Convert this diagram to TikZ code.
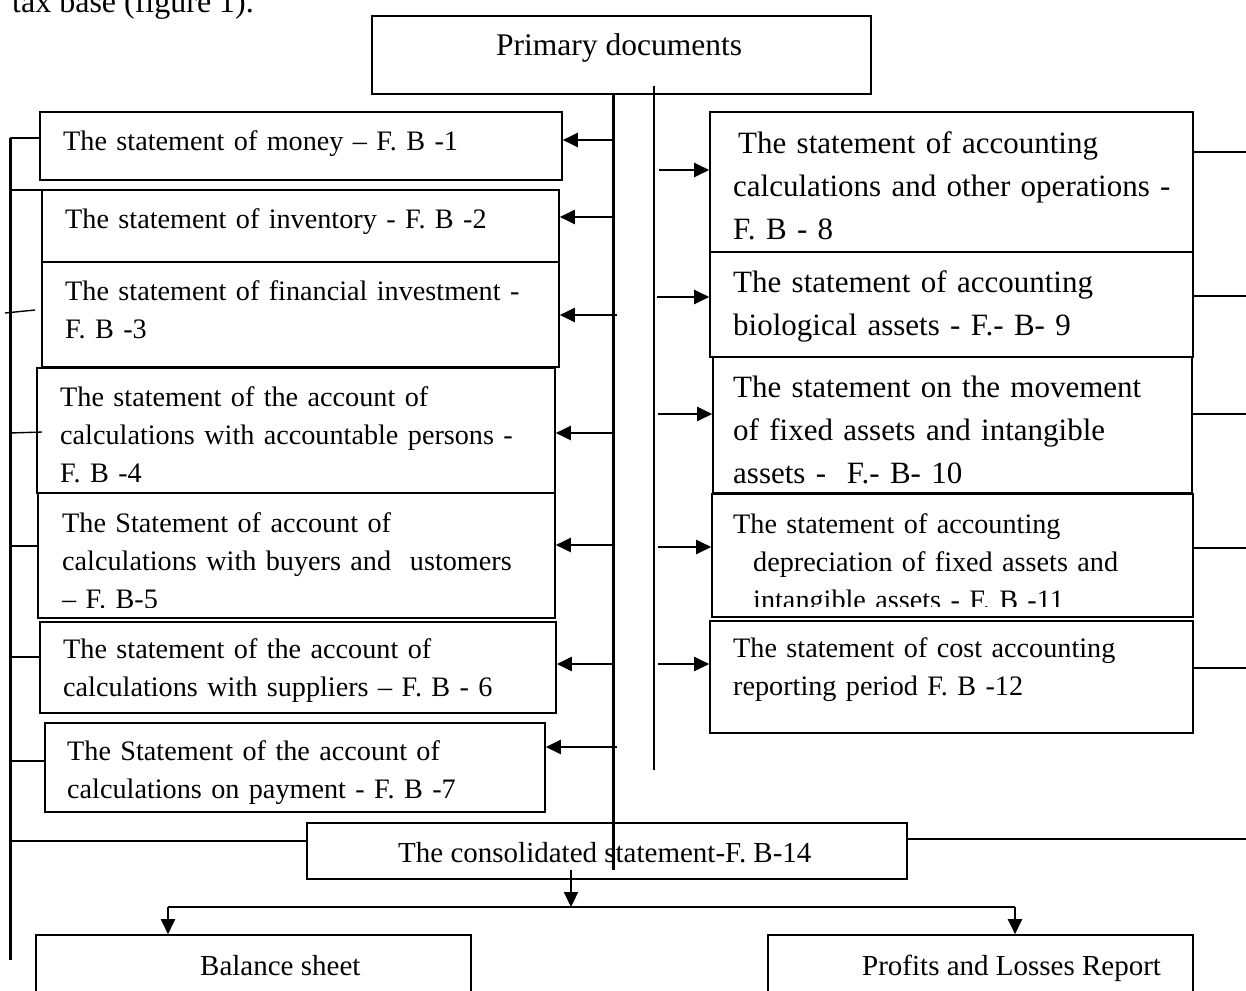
\documentclass[tikz,border=0pt]{standalone}
\usepackage{fontspec}
\setmainfont{Liberation Serif}
\usetikzlibrary{arrows.meta,fit}
\begin{document}
\begin{tikzpicture}[x=1pt,y=-1pt,
  box/.style={draw, line width=1.6pt, inner sep=0pt},
  lt/.style={anchor=base west, inner sep=0pt, align=left, text width=520pt, font=\fontsize{28.2}{38}\selectfont},
  rt/.style={anchor=base west, inner sep=0pt, align=left, text width=480pt, font=\fontsize{31}{43}\selectfont},
  ct/.style={anchor=base west, inner sep=0pt},
  link/.style={line width=2.6pt},
  thinlink/.style={line width=1.4pt},
  arr/.style={line width=2.2pt, -{Triangle[length=15pt,width=14pt]}}]
\useasboundingbox (0,0) rectangle (1246,990);

% caption fragment at top (partly off the page)
\node[ct, font=\fontsize{32}{38}\selectfont] (cap) at (12,13) {tax base (figure 1).};

% top box
\node[box, fit={(372,16) (871,94)}] (prim) {};
\node[ct, font=\fontsize{31.5}{38}\selectfont] (primt) at (496,56) {Primary documents};

% left boxes
\node[box, fit={(40,112) (562,180)}] (b1) {};
\node[box, fit={(42,190) (559,262)}] (b2) {};
\node[box, fit={(42,262) (559,367)}] (b3) {};
\node[box, fit={(37,368) (555,493)}] (b4) {};
\node[box, fit={(38,493) (555,618)}] (b5) {};
\node[box, fit={(40,622) (556,713)}] (b6) {};
\node[box, fit={(45,723) (545,812)}] (b7) {};

\node[lt] (t1) at (63,150) {The statement of money – F. B -1};
\node[lt] (t2) at (65,228) {The statement of inventory - F. B -2};
\node[lt] (t3) at (65,300) {The statement of financial investment -\\F. B -3};
\node[lt] (t4) at (60,406) {The statement of the account of\\calculations with accountable persons -\\F. B -4};
\begin{scope}
  \clip (38,493) rectangle (555,607);
  \node[lt] (t5) at (62,532) {The Statement of account of\\calculations with buyers and\ \ ustomers\\– F. B-5};
\end{scope}
\node[lt] (t6) at (63,658) {The statement of the account of\\calculations with suppliers – F. B - 6};
\begin{scope}
  \clip (45,723) rectangle (545,803);
  \node[lt] (t7) at (67,760) {The Statement of the account of\\calculations on payment - F. B -7};
\end{scope}

% right boxes
\node[box, fit={(710,112) (1193,252)}] (b8) {};
\node[box, fit={(710,252) (1193,357)}] (b9) {};
\node[box, fit={(713,357) (1192,493)}] (b10) {};
\node[box, fit={(712,494) (1193,617)}] (b11) {};
\node[box, fit={(710,621) (1193,733)}] (b12) {};

\node[rt] (t8) at (733,153) {\hspace*{5pt}The statement of accounting\\calculations and other operations -\\F. B - 8};
\node[rt] (t9) at (733,292) {The statement of accounting\\biological assets - F.- B- 9};
\node[rt] (t10) at (733,397) {The statement on the movement\\of fixed assets and intangible\\assets -\ \ F.- B- 10};
\begin{scope}
  \clip (712,494) rectangle (1193,606);
  \node[lt] (t11) at (733,533) {The statement of accounting\\\hspace*{20pt}depreciation of fixed assets and\\\hspace*{20pt}intangible assets - F. B -11};
\end{scope}
\node[lt] (t12) at (733,657) {The statement of cost accounting\\reporting period F. B -12};

% consolidated and results
\node[box, fit={(307,823) (907,879)}] (cons) {};
\node[ct, font=\fontsize{29}{38}\selectfont] (const) at (398,862) {The consolidated statement-F. B-14};
\node[box, fit={(36,935) (471,1010)}] (bal) {};
\node[ct, font=\fontsize{29}{38}\selectfont] (balt) at (200,975) {Balance sheet};
\node[box, fit={(768,935) (1193,1010)}] (pl) {};
\node[ct, font=\fontsize{29}{38}\selectfont] (plt) at (862,975) {Profits and Losses Report};

% trunks
\coordinate (trTop) at (613,94);
\coordinate (trBot) at (613,870);
\draw[line width=3pt] (trTop) -- (trBot);
\coordinate (tnTop) at (654,86);
\coordinate (tnBot) at (654,770);
\draw[line width=1.8pt] (tnTop) -- (tnBot);

% left arrows
\coordinate (L1) at (613,140);
\coordinate (L2) at (613,217);
\coordinate (L3) at (617,315);
\coordinate (L4) at (613,433);
\coordinate (L5) at (613,545);
\coordinate (L6) at (613,664);
\coordinate (L7) at (617,747);
\draw[arr] (L1) -- (L1 -| b1.east);
\draw[arr] (L2) -- (L2 -| b2.east);
\draw[arr] (L3) -- (L3 -| b3.east);
\draw[arr] (L4) -- (L4 -| b4.east);
\draw[arr] (L5) -- (L5 -| b5.east);
\draw[arr] (L6) -- (L6 -| b6.east);
\draw[arr] (L7) -- (L7 -| b7.east);

% right arrows
\coordinate (R8) at (659,170);
\coordinate (R9) at (657,297);
\coordinate (R10) at (658,414);
\coordinate (R11) at (658,547);
\coordinate (R12) at (658,664);
\draw[arr] (R8) -- (R8 -| b8.west);
\draw[arr] (R9) -- (R9 -| b9.west);
\draw[arr] (R10) -- (R10 -| b10.west);
\draw[arr] (R11) -- (R11 -| b11.west);
\draw[arr] (R12) -- (R12 -| b12.west);

% left rail
\coordinate (railTop) at (10,138);
\coordinate (railBot) at (10,960);
\draw[line width=3pt] (railTop) -- (railBot);
\draw[link] (railTop) -- (railTop -| b1.west);
\coordinate (k2) at (10,190);
\draw[link] (k2) -- (k2 -| b2.west);
\coordinate (k3a) at (5,313);
\coordinate (k3b) at (35,310);
\draw[thinlink] (k3a) -- (k3b);
\coordinate (k4) at (10,433);
\draw[thinlink] (k4) -- (42,432);
\coordinate (k5) at (10,546);
\draw[link] (k5) -- (k5 -| b5.west);
\coordinate (k6) at (10,657);
\draw[link] (k6) -- (k6 -| b6.west);
\coordinate (k7) at (10,761);
\draw[link] (k7) -- (k7 -| b7.west);
\coordinate (kc) at (10,841);
\draw[link] (kc) -- (kc -| cons.west);

% right ticks
\coordinate (e8) at (1246,152);
\coordinate (e9) at (1246,296);
\coordinate (e10) at (1246,414);
\coordinate (e11) at (1246,548);
\coordinate (e12) at (1246,668);
\coordinate (ec) at (1246,839);
\draw[link] (e8 -| b8.east) -- (e8);
\draw[link] (e9 -| b9.east) -- (e9);
\draw[link] (e10 -| b10.east) -- (e10);
\draw[link] (e11 -| b11.east) -- (e11);
\draw[link] (e12 -| b12.east) -- (e12);
\draw[link] (ec -| cons.east) -- (ec);

% distribution to results
\coordinate (cOut) at (571,870);
\coordinate (bus) at (571,907);
\coordinate (busL) at (168,907);
\coordinate (busR) at (1015,907);
\draw[arr] (cOut) -- (bus);
\draw[link] (busL) -- (busR);
\draw[arr] (busL) -- (busL |- bal.north);
\draw[arr] (busR) -- (busR |- pl.north);
\end{tikzpicture}
\end{document}
